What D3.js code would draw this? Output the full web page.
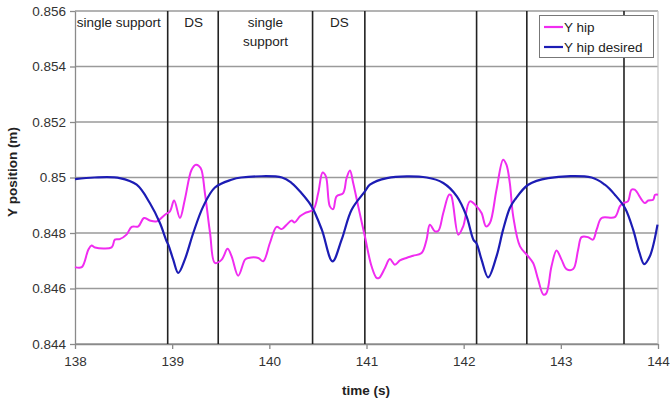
<!DOCTYPE html>
<html><head><meta charset="utf-8">
<script src="https://cdn.jsdelivr.net/npm/d3@7"></script>
<style>body{margin:0;background:#fff;} text{font-family:Arial,"Liberation Sans",sans-serif;}</style>
</head><body><svg id="c" width="671" height="402"></svg>
<script>
const xTicks = [138,139,140,141,142,143,144];
const yTicks = [0.844,0.846,0.848,0.85,0.852,0.854,0.856];
const yTickLabels = ["0.844","0.846","0.848","0.85","0.852","0.854","0.856"];
const phaseLines = [138.954,139.474,140.445,140.983,142.133,142.65,143.65];
const phaseLabels = [
  {t:138.45, lines:["single support"]},
  {t:139.22, lines:["DS"]},
  {t:139.96, lines:["single","support"]},
  {t:140.72, lines:["DS"]}
];
const seriesNames = ["Y hip","Y hip desired"];
const hipT = [138.0,138.07,138.137,138.17,138.206,138.377,138.41,138.46,138.53,138.583,138.652,138.71,138.77,138.84,138.926,138.977,139.02,139.08,139.13,139.2,139.245,139.293,139.337,139.39,139.44,139.51,139.57,139.612,139.68,139.75,139.785,139.886,139.937,140.006,140.075,140.127,140.178,140.23,140.26,140.315,140.366,140.452,140.503,140.548,140.582,140.623,140.657,140.692,140.76,140.795,140.83,140.863,140.915,140.983,141.052,141.104,141.13,141.19,141.24,141.292,141.344,141.41,141.48,141.567,141.618,141.652,141.704,141.74,141.79,141.85,141.87,141.945,141.995,142.064,142.133,142.184,142.23,142.27,142.338,142.406,142.44,142.475,142.51,142.58,142.664,142.715,142.767,142.82,142.85,142.904,142.956,143.007,143.058,143.127,143.178,143.213,143.28,143.33,143.37,143.42,143.556,143.607,143.64,143.69,143.727,143.76,143.864,143.9,143.95,143.97,144.0];
const hipY = [0.84677,0.84677,0.8474,0.84755,0.84748,0.84748,0.84776,0.84778,0.84794,0.84822,0.84824,0.84854,0.84845,0.84842,0.84866,0.84878,0.84917,0.84854,0.8492,0.85028,0.85046,0.85034,0.84944,0.848,0.84692,0.84704,0.84743,0.84716,0.84646,0.84704,0.8471,0.8471,0.84698,0.84764,0.84822,0.84814,0.8483,0.84845,0.84838,0.8486,0.84872,0.84884,0.84944,0.85018,0.85004,0.84896,0.84886,0.84932,0.84944,0.84998,0.85025,0.8498,0.84896,0.84788,0.8468,0.84638,0.84638,0.84674,0.84706,0.84686,0.84701,0.8471,0.84718,0.84728,0.84776,0.8483,0.84806,0.84808,0.84872,0.84938,0.84936,0.84794,0.84824,0.84914,0.84896,0.84872,0.84824,0.84836,0.84956,0.85064,0.85046,0.8498,0.8486,0.84752,0.84716,0.84692,0.84632,0.84578,0.84582,0.8468,0.84737,0.84704,0.8467,0.8467,0.8474,0.84785,0.84785,0.84776,0.84814,0.84854,0.84857,0.84896,0.84908,0.84914,0.84956,0.84956,0.84908,0.84917,0.8492,0.84938,0.84938];
const desT = [138.0,138.2,138.46,138.635,138.77,138.874,138.943,138.96,139.011,139.063,139.13,139.217,139.32,139.44,139.61,139.71,140.13,140.23,140.33,140.435,140.54,140.65,140.744,140.847,140.984,141.035,141.21,141.62,141.79,141.93,142.03,142.1,142.133,142.184,142.252,142.338,142.406,142.475,142.527,142.664,142.87,143.316,143.453,143.556,143.66,143.744,143.81,143.857,143.916,143.995];
const desY = [0.84994,0.85,0.84998,0.84974,0.84908,0.84836,0.8477,0.84758,0.84704,0.84656,0.84704,0.848,0.84896,0.84964,0.84992,0.85,0.85,0.8498,0.84944,0.84896,0.84812,0.84698,0.84776,0.84884,0.8495,0.84974,0.84998,0.85,0.8498,0.84932,0.8486,0.84776,0.84762,0.84704,0.8464,0.84716,0.84812,0.8489,0.8492,0.84974,0.84998,0.85,0.84974,0.84938,0.8489,0.84812,0.84728,0.84688,0.84716,0.8483];
const colors = ["#f02cf0","#1c1cb4"];

const svg = d3.select("#c");
const m = {l:75, r:658, t:11, b:344};
const x = d3.scaleLinear().domain([138,144]).range([m.l,m.r]);
const y = d3.scaleLinear().domain([0.844,0.856]).range([m.b,m.t]);

// horizontal grid
svg.append("g").selectAll("line").data(yTicks).join("line")
  .attr("x1",m.l).attr("x2",m.r).attr("y1",d=>y(d)).attr("y2",d=>y(d))
  .attr("stroke","#9a9a9a").attr("stroke-width",1.3);
// right border
svg.append("line").attr("x1",m.r).attr("x2",m.r).attr("y1",m.t).attr("y2",m.b)
  .attr("stroke","#c8c8c8").attr("stroke-width",1.3);

// axes
const yAxis = d3.axisLeft(y).tickValues(yTicks).tickFormat((d,i)=>yTickLabels[i]).tickSize(5).tickSizeOuter(0);
const gy = svg.append("g").attr("transform",`translate(${m.l},0)`).call(yAxis);
const xAxis = d3.axisBottom(x).tickValues(xTicks).tickFormat(d3.format("d")).tickSize(5).tickSizeOuter(0);
const gx = svg.append("g").attr("transform",`translate(0,${m.b})`).call(xAxis);
[gy,gx].forEach(g=>{
  g.select(".domain").attr("stroke","#8a8a8a").attr("stroke-width",1.3);
  g.selectAll(".tick line").attr("stroke","#8a8a8a").attr("stroke-width",1.3);
  g.selectAll("text").attr("fill","#333").attr("font-size",13.5).attr("font-family","Arial, Liberation Sans, sans-serif");
});
gy.selectAll("text").attr("x",-9);
gx.selectAll("text").attr("y",12);

// phase lines
svg.append("g").selectAll("line").data(phaseLines).join("line")
  .attr("x1",d=>x(d)).attr("x2",d=>x(d)).attr("y1",m.t).attr("y2",m.b)
  .attr("stroke","#222").attr("stroke-width",1.6);

// phase labels
const pl = svg.append("g");
phaseLabels.forEach(p=>{
  p.lines.forEach((s,i)=>{
    pl.append("text").attr("x",x(p.t)).attr("y",27+i*19).attr("text-anchor","middle")
      .attr("font-size",13.5).attr("fill","#222").text(s);
  });
});

// series
const line = d3.line().x(d=>x(d[0])).y(d=>y(d[1])).curve(d3.curveCatmullRom.alpha(0.5));
svg.append("path").datum(hipT.map((t,i)=>[t,hipY[i]])).attr("d",line)
  .attr("fill","none").attr("stroke",colors[0]).attr("stroke-width",2);
svg.append("path").datum(desT.map((t,i)=>[t,desY[i]])).attr("d",line)
  .attr("fill","none").attr("stroke",colors[1]).attr("stroke-width",2.2);

// legend
const lg = svg.append("g");
lg.append("rect").attr("x",539.5).attr("y",15.5).attr("width",114).attr("height",42)
  .attr("fill","#fff").attr("stroke","#777").attr("stroke-width",1);
seriesNames.forEach((n,i)=>{
  const yy = 27+i*20;
  lg.append("line").attr("x1",544).attr("x2",563).attr("y1",yy).attr("y2",yy)
    .attr("stroke",colors[i]).attr("stroke-width",2.2);
  lg.append("text").attr("x",564).attr("y",yy+5).attr("font-size",13.5).attr("fill","#222").text(n);
});

// axis titles
svg.append("text").attr("x",366).attr("y",395).attr("text-anchor","middle")
  .attr("font-size",13.5).attr("font-weight","bold").attr("fill","#222").text("time (s)");
svg.append("text").attr("transform","translate(17,172) rotate(-90)").attr("text-anchor","middle")
  .attr("font-size",13.5).attr("font-weight","bold").attr("fill","#222").text("Y position (m)");
</script></body></html>
